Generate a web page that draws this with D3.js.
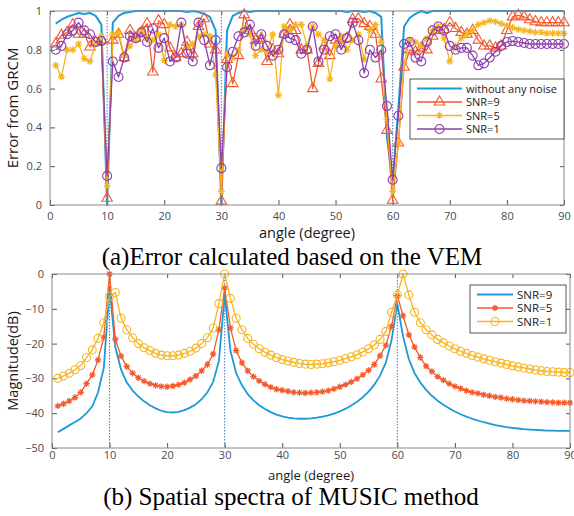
<!DOCTYPE html>
<html>
<head>
<meta charset="utf-8">
<script src="https://d3js.org/d3.v7.min.js"></script>
<style>
  body { margin: 0; background: #fff; }
  text { font-family: "Open Sans", "Noto Sans", sans-serif; }
  .tick text { fill: #4a4a4a; font-size: 11px; }
  .caption { font-family: "Liberation Serif", "DejaVu Serif", serif; font-size: 25px; fill: #000; }
</style>
</head>
<body>
<div class="chart"></div>
<script>

// angle grid (degree) shared by every series
var angles = d3.range(1, 91);

// (a) error from GRCM
var errNoNoise = [0.935,0.955,0.97,0.98,0.99,0.985,0.99,0.975,0.93,0.0,
  0.94,0.975,0.99,0.995,1.0,1.0,1.0,1.0,1.0,1.0,
  1.0,1.0,1.0,0.995,1.0,0.995,0.985,0.97,0.9,0.0,
  0.9,0.975,0.99,1.0,0.995,1.0,1.0,1.0,1.0,1.0,
  1.0,1.0,1.0,1.0,1.0,1.0,1.0,1.0,1.0,1.0,
  1.0,0.995,1.0,1.0,0.995,1.0,0.99,0.97,0.35,0.12,
  0.5,0.92,0.965,0.985,1.0,0.99,1.0,1.0,1.0,1.0,
  1.0,1.0,1.0,1.0,1.0,1.0,1.0,1.0,1.0,1.0,
  1.0,1.0,1.0,1.0,1.0,1.0,1.0,1.0,1.0,1.0];

var errSnr9 = [0.83,0.875,0.89,0.93,0.88,0.88,0.815,0.84,0.85,0.035,
  0.85,0.88,0.76,0.9,0.86,0.89,0.935,0.686,0.95,0.93,
  0.81,0.76,0.78,0.84,0.78,0.92,0.96,0.83,0.8,0.02,
  0.75,0.626,0.77,0.98,0.9,0.85,0.86,0.74,0.8,0.78,
  0.88,0.93,0.9,0.8,0.8,0.6,0.73,0.82,0.77,0.85,
  0.83,0.86,0.957,0.96,0.935,0.92,0.88,0.65,0.385,0.025,
  0.32,0.71,0.8,0.79,0.81,0.8,0.87,0.9,0.905,0.94,
  0.91,0.89,0.88,0.9,0.85,0.82,0.82,0.81,0.82,0.9,
  0.97,0.978,0.97,0.955,0.945,0.94,0.94,0.94,0.94,0.94];

var errSnr5 = [0.72,0.66,0.8,0.8,0.83,0.755,0.74,0.83,0.87,0.1,
  0.88,0.89,0.77,0.82,0.85,0.9,0.86,0.85,0.88,0.745,
  0.93,0.92,0.93,0.81,0.83,0.87,0.88,0.87,0.67,0.07,
  0.78,0.76,0.8,0.91,0.88,0.77,0.8,0.79,0.88,0.566,
  0.92,0.9,0.93,0.93,0.82,0.92,0.88,0.85,0.65,0.82,
  0.87,0.8,0.85,0.88,0.75,0.9,0.93,0.84,0.44,0.07,
  0.32,0.73,0.85,0.84,0.82,0.86,0.9,0.92,0.86,0.74,
  0.82,0.86,0.88,0.9,0.93,0.94,0.95,0.945,0.935,0.925,
  0.915,0.905,0.9,0.895,0.89,0.89,0.885,0.885,0.885,0.885];

var errSnr1 = [0.8,0.82,0.88,0.9,0.94,0.9,0.88,0.84,0.845,0.15,
  0.74,0.66,0.76,0.87,0.86,0.89,0.84,0.91,0.81,0.86,
  0.74,0.76,0.94,0.78,0.74,0.94,0.85,0.72,0.85,0.19,
  0.71,0.79,0.87,0.89,0.93,0.82,0.88,0.82,0.77,0.8,
  0.88,0.86,0.85,0.78,0.8,0.92,0.74,0.8,0.87,0.88,
  0.8,0.86,0.94,0.85,0.68,0.8,0.76,0.8,0.51,0.13,
  0.46,0.83,0.84,0.76,0.74,0.84,0.9,0.92,0.9,0.82,
  0.8,0.81,0.81,0.77,0.72,0.73,0.76,0.79,0.82,0.84,
  0.845,0.84,0.835,0.83,0.83,0.83,0.83,0.83,0.83,0.83];

// (b) MUSIC spatial spectra, dB
var musicSnr9 = [-45.5,-44.5,-43.5,-42.5,-41.5,-40,-38,-34,-27,-4,
  -21,-27.5,-31.2,-33.5,-35.2,-36.6,-37.7,-38.6,-39.3,-39.7,
  -39.8,-39.6,-39.1,-38.4,-37.4,-36,-34,-31,-25,-6,
  -22,-28.5,-32,-34.5,-36.3,-37.7,-38.8,-39.7,-40.4,-40.9,
  -41.3,-41.5,-41.6,-41.6,-41.5,-41.3,-41,-40.6,-40.1,-39.5,
  -38.7,-37.8,-36.7,-35.4,-33.8,-31.8,-29.2,-25.5,-19,-8.5,
  -18,-24.5,-28.5,-31.2,-33.3,-35,-36.4,-37.6,-38.6,-39.5,
  -40.3,-41,-41.6,-42.1,-42.6,-43,-43.4,-43.7,-44,-44.2,
  -44.4,-44.6,-44.7,-44.8,-44.9,-45,-45,-45.1,-45.1,-45.1];

var musicSnr5 = [-37.9,-37.3,-36.5,-35.5,-34,-31.5,-29,-24.7,-18.2,0,
  -18.7,-23.6,-26.6,-28.5,-29.8,-30.8,-31.5,-32,-32.3,-32.4,
  -32.2,-31.8,-31.2,-30.3,-29.3,-27.8,-26,-23,-16,-4,
  -15.5,-22,-25.5,-27.8,-29.5,-30.7,-31.7,-32.5,-33.1,-33.4,
  -33.7,-34,-34.1,-34.2,-34.1,-34,-33.8,-33.5,-33,-32.4,
  -31.8,-31,-30.1,-29,-27.7,-26,-23.5,-20.5,-15,-6.2,
  -12,-17.5,-21,-24,-26.5,-28,-29.5,-30.5,-31.5,-32.3,
  -32.9,-33.5,-34,-34.3,-34.7,-35,-35.3,-35.5,-35.8,-36,
  -36.2,-36.4,-36.5,-36.6,-36.7,-36.8,-36.9,-37,-37,-37];

var musicSnr1 = [-30,-29.3,-28.5,-27.5,-26.3,-24,-21.8,-18.5,-14,-6.4,
  -5.3,-12.7,-16,-18.3,-20,-21.2,-22,-22.8,-23.3,-23.5,
  -23.5,-23.3,-22.8,-22.2,-21.3,-20,-18.3,-15.5,-8.5,0,
  -7,-12.7,-16,-18.5,-20.2,-21.5,-22.5,-23.3,-24,-24.6,
  -25,-25.4,-25.7,-25.9,-26,-25.9,-25.8,-25.5,-25.2,-24.8,
  -24.3,-23.8,-23.2,-22.4,-21.5,-20.4,-18.8,-16.5,-11,-6,
  0,-6,-11,-14,-16,-17.5,-18.8,-19.8,-20.7,-21.5,
  -22.2,-22.8,-23.4,-23.9,-24.4,-24.8,-25.2,-25.6,-26,-26.4,
  -26.7,-27,-27.3,-27.6,-27.8,-28,-28.1,-28.2,-28.3,-28.3];

// source directions marked with dotted lines
var sourceAngles = [10, 30, 60];

var xTicks = [0, 10, 20, 30, 40, 50, 60, 70, 80, 90];
var errTicks = [0, 0.2, 0.4, 0.6, 0.8, 1];
var dbTicks = [0, -10, -20, -30, -40, -50];

var blue = "#1c9ad6", red = "#f4592c", yellow = "#f8b41c", purple = "#8c3fae";

var svgWidth = 574;
var svgHeight = 516;

var svg = d3.select(".chart")
  .append("svg")
  .attr("width", svgWidth)
  .attr("height", svgHeight);

svg.append("rect").attr("width", svgWidth).attr("height", svgHeight).attr("fill", "#fff");

// asterisk marker like matlab '*'
function starPath(r) {
  var p = "";
  [0, 45, 90, 135].forEach(function (a) {
    var t = a * Math.PI / 180;
    p += "M" + (-r * Math.cos(t)) + "," + (-r * Math.sin(t)) + "L" + (r * Math.cos(t)) + "," + (r * Math.sin(t));
  });
  return p;
}

function drawMarker(g, kind, color, size) {
  if (kind === "triangle") {
    g.append("path")
      .attr("d", d3.symbol().type(d3.symbolTriangle).size(size)())
      .attr("fill", "none")
      .attr("stroke", color).attr("stroke-width", 1.1);
  } else if (kind === "circle") {
    g.append("circle").attr("r", size)
      .attr("fill", "none").attr("stroke", color).attr("stroke-width", 1.1);
  } else if (kind === "star") {
    g.append("path").attr("d", starPath(size))
      .attr("stroke", color).attr("stroke-width", 1.2);
  }
}

// generic panel: box, inward ticks on all four sides, series, dotted lines
function drawPanel(opt) {
  var x = d3.scaleLinear().domain([0, 90]).range([opt.left, opt.right]);
  var y = d3.scaleLinear().domain(opt.yDomain).range([opt.bottom, opt.top]);

  var g = svg.append("g");

  g.append("g")
    .attr("transform", `translate(0, ${opt.bottom})`)
    .call(d3.axisBottom(x).tickValues(xTicks).tickSize(-5).tickPadding(opt.xPad))
    .call(a => a.select(".domain").remove())
    .call(a => a.selectAll("line").attr("stroke", "#555"));

  g.append("g")
    .attr("transform", `translate(${opt.left}, 0)`)
    .call(d3.axisLeft(y).tickValues(opt.yTicks).tickSize(-5).tickPadding(8).tickFormat(opt.fmt))
    .call(a => a.select(".domain").remove())
    .call(a => a.selectAll("line").attr("stroke", "#555"));

  // mirrored ticks on top and right
  g.append("g")
    .attr("transform", `translate(0, ${opt.top})`)
    .call(d3.axisTop(x).tickValues(xTicks).tickSize(-4).tickFormat(""))
    .call(a => a.select(".domain").remove())
    .call(a => a.selectAll("line").attr("stroke", "#555"));

  g.append("g")
    .attr("transform", `translate(${opt.right}, 0)`)
    .call(d3.axisRight(y).tickValues(opt.yTicks).tickSize(-4).tickFormat(""))
    .call(a => a.select(".domain").remove())
    .call(a => a.selectAll("line").attr("stroke", "#555"));

  // dotted source lines
  g.selectAll(".src")
    .data(sourceAngles)
    .enter()
    .append("line")
    .attr("x1", d => x(d)).attr("x2", d => x(d))
    .attr("y1", opt.top).attr("y2", opt.bottom)
    .attr("stroke", "#3d7cc0")
    .attr("stroke-width", 1)
    .attr("stroke-dasharray", "1.5,1.5");

  var line = d3.line()
    .x(d => x(d.a))
    .y(d => y(d.v));

  opt.series.forEach(function (s) {
    var pts = angles.map((a, i) => ({ a: a, v: s.values[i] }));
    g.append("path")
      .datum(pts)
      .attr("d", line)
      .attr("fill", "none")
      .attr("stroke", s.color)
      .attr("stroke-width", s.width)
      .attr("stroke-linejoin", "round");
    if (s.marker) {
      pts.forEach(function (p) {
        var m = g.append("g").attr("transform", `translate(${x(p.a)}, ${y(p.v)})`);
        drawMarker(m, s.marker, s.color, s.msize);
      });
    }
  });

  // axes box
  g.append("rect")
    .attr("x", opt.left).attr("y", opt.top)
    .attr("width", opt.right - opt.left).attr("height", opt.bottom - opt.top)
    .attr("fill", "none").attr("stroke", "#8a8a8a").attr("stroke-width", 1);

  // axis labels
  g.append("text")
    .attr("x", (opt.left + opt.right) / 2)
    .attr("y", opt.bottom + opt.xlabelDy)
    .attr("text-anchor", "middle")
    .attr("font-size", opt.xlabelSize)
    .attr("fill", "#1a1a1a")
    .text("angle (degree)");

  g.append("text")
    .attr("transform", `translate(${opt.ylabelX}, ${(opt.top + opt.bottom) / 2}) rotate(-90)`)
    .attr("text-anchor", "middle")
    .attr("font-size", opt.ylabelSize)
    .attr("fill", "#1a1a1a")
    .text(opt.ylabel);

  // legend
  var lg = g.append("g");
  lg.append("rect")
    .attr("x", opt.legend.x).attr("y", opt.legend.y)
    .attr("width", opt.legend.w).attr("height", opt.legend.h)
    .attr("fill", "#fff").attr("stroke", "#555").attr("stroke-width", 1);
  opt.series.forEach(function (s, i) {
    var ly = opt.legend.y + opt.legend.first + i * opt.legend.step;
    var x0 = opt.legend.x + 7, x1 = x0 + opt.legend.len;
    lg.append("line")
      .attr("x1", x0).attr("x2", x1).attr("y1", ly).attr("y2", ly)
      .attr("stroke", s.color).attr("stroke-width", s.width);
    if (s.marker) {
      drawMarker(lg.append("g").attr("transform", `translate(${(x0 + x1) / 2}, ${ly})`), s.marker, s.color, s.msize);
    }
    lg.append("text")
      .attr("x", x1 + 4).attr("y", ly + 4)
      .attr("font-size", opt.legend.font)
      .attr("fill", "#1a1a1a")
      .text(s.name);
  });
}

// (a) panel
drawPanel({
  left: 50, right: 564, top: 11, bottom: 205,
  yDomain: [0, 1], yTicks: errTicks, fmt: d3.format("~g"),
  xPad: 7, xlabelDy: 33, xlabelSize: "14.5px",
  ylabel: "Error from GRCM", ylabelX: 18, ylabelSize: "15px",
  series: [
    { name: "without any noise", values: errNoNoise, color: blue, width: 2 },
    { name: "SNR=9", values: errSnr9, color: red, width: 1.3, marker: "triangle", msize: 48 },
    { name: "SNR=5", values: errSnr5, color: yellow, width: 1.3, marker: "star", msize: 3.5 },
    { name: "SNR=1", values: errSnr1, color: purple, width: 1.3, marker: "circle", msize: 4.5 }
  ],
  legend: { x: 410, y: 79, w: 154, h: 60, first: 9.5, step: 13.5, len: 45, font: "11px" }
});

svg.append("text")
  .attr("class", "caption")
  .attr("x", 292).attr("y", 265)
  .attr("text-anchor", "middle")
  .text("(a)Error calculated based on the VEM");

// (b) panel
drawPanel({
  left: 52, right: 570, top: 274, bottom: 448,
  yDomain: [-50, 0], yTicks: dbTicks, fmt: d3.format("d"),
  xPad: 3, xlabelDy: 32, xlabelSize: "13px",
  ylabel: "Magnitude(dB)", ylabelX: 18, ylabelSize: "14.5px",
  series: [
    { name: "SNR=9", values: musicSnr9, color: blue, width: 1.8 },
    { name: "SNR=5", values: musicSnr5, color: red, width: 1.3, marker: "star", msize: 3.2 },
    { name: "SNR=1", values: musicSnr1, color: yellow, width: 1.3, marker: "circle", msize: 4 }
  ],
  legend: { x: 470, y: 285, w: 96, h: 48, first: 9.5, step: 13.5, len: 36, font: "11.5px" }
});

svg.append("text")
  .attr("class", "caption")
  .attr("x", 291).attr("y", 505)
  .attr("text-anchor", "middle")
  .text("(b) Spatial spectra of MUSIC method");

</script>
</body>
</html>
